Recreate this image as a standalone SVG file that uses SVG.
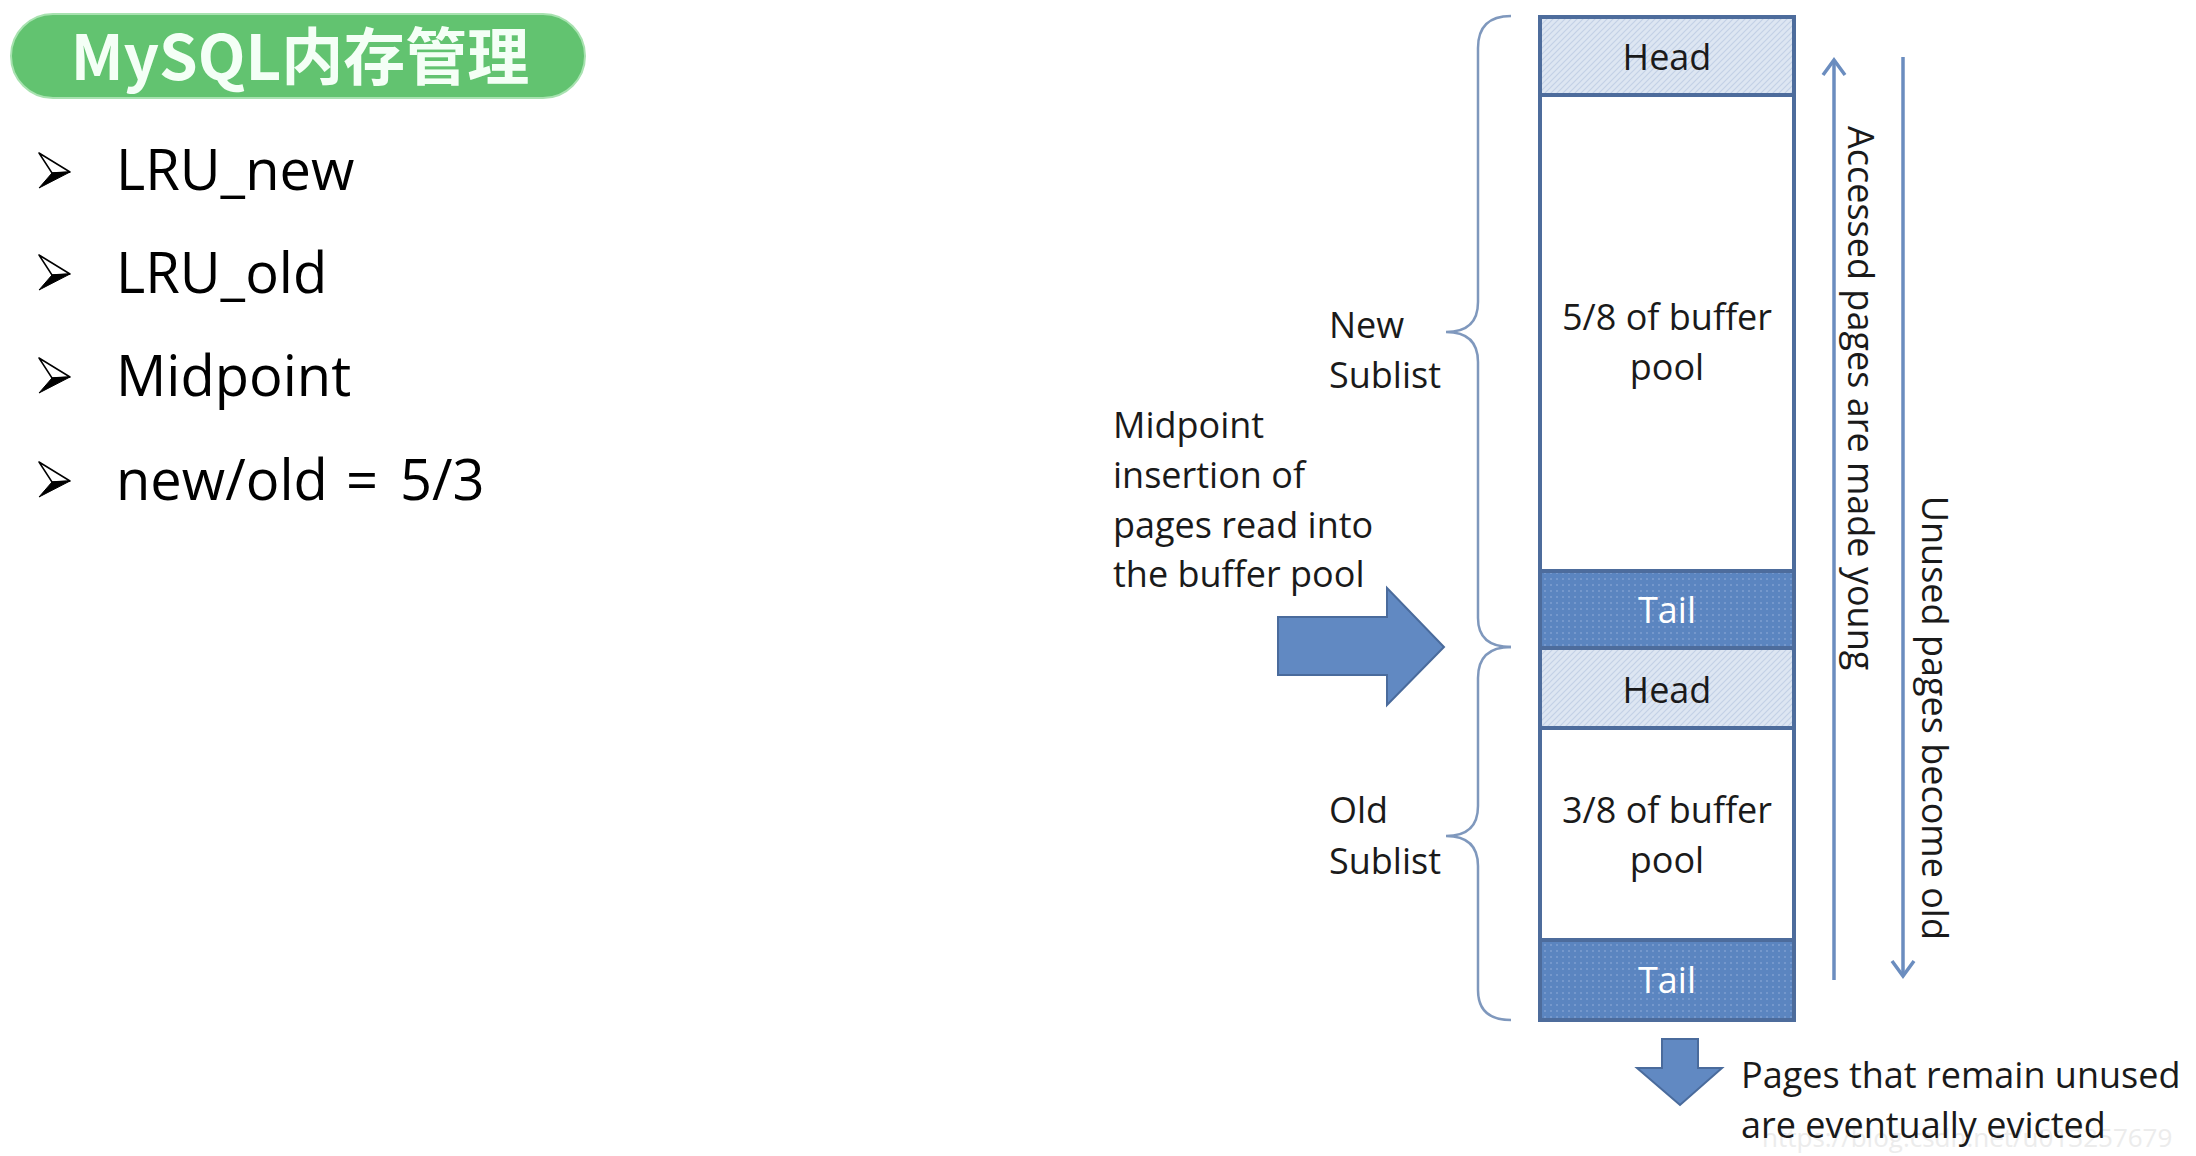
<svg xmlns="http://www.w3.org/2000/svg" width="2196" height="1156" viewBox="0 0 2196 1156">
<defs>
<style>
.t{font-family:"Open Sans","Liberation Sans",sans-serif;fill:#1a1a1a}
.lbl{font-size:36px}
.big{font-size:56px;fill:#000}
.w{fill:#ffffff}
.row{stroke:#4d6c9c;stroke-width:4}
.brace{fill:none;stroke:#7f98bd;stroke-width:2.5}
.vl{stroke:#6b8dbf;stroke-width:3.5;fill:none}
.blk{fill:#6189c2;stroke:#4a6b9c;stroke-width:2}
</style>
<pattern id="hatch" width="6" height="6" patternUnits="userSpaceOnUse">
<rect width="6" height="6" fill="#dde6f2"/>
<path d="M-1,1 L1,-1 M0,6 L6,0 M5,7 L7,5" stroke="#c3d1e6" stroke-width="1.2"/>
</pattern>
<pattern id="dots" width="6" height="6" patternUnits="userSpaceOnUse">
<rect width="6" height="6" fill="#5b85c0"/>
<circle cx="3" cy="3" r="1" fill="#7d9fd0"/>
</pattern>
<g id="bul">
<polygon points="0,0 31,19 13,20" fill="#ffffff" stroke="#000" stroke-width="1.5" stroke-linejoin="round"/>
<polygon points="13,20 31,19 0,35" fill="#000" stroke="#000" stroke-width="1" stroke-linejoin="round"/>
</g>
</defs>
<rect width="2196" height="1156" fill="#ffffff"/>

<g id="title">
<rect x="11" y="14" width="574" height="84" rx="42" fill="#62c370" stroke="#a8e2b0" stroke-width="2"/>
<text x="300" y="80" text-anchor="middle" font-family="'Noto Sans CJK SC','Noto Sans',sans-serif" font-weight="bold" font-size="62" fill="#f4fff6">MySQL内存管理</text>
</g>

<g id="bullets">
<use href="#bul" x="39" y="153"/>
<text class="t big" x="116" y="190">LRU_new</text>
<use href="#bul" x="39" y="255"/>
<text class="t big" x="116" y="293">LRU_old</text>
<use href="#bul" x="39" y="358"/>
<text class="t big" x="116" y="396">Midpoint</text>
<use href="#bul" x="39" y="462"/>
<text class="t big" x="116" y="500">new/old <tspan x="346">=</tspan> <tspan x="400">5/3</tspan></text>
</g>

<g id="buffer-pool">
<g id="head-new">
<rect x="1540" y="17" width="254" height="78" fill="url(#hatch)" class="row"/>
<text class="t lbl" x="1667" y="70" text-anchor="middle">Head</text>
</g>
<g id="body-new">
<rect x="1540" y="95" width="254" height="476" fill="#ffffff" class="row"/>
<text class="t lbl" x="1667" y="330" text-anchor="middle">5/8 of buffer</text>
<text class="t lbl" x="1667" y="380" text-anchor="middle">pool</text>
</g>
<g id="tail-new">
<rect x="1540" y="571" width="254" height="77" fill="url(#dots)" class="row"/>
<text class="t lbl w" x="1667" y="623" text-anchor="middle">Tail</text>
</g>
<g id="head-old">
<rect x="1540" y="648" width="254" height="80" fill="url(#hatch)" class="row"/>
<text class="t lbl" x="1667" y="703" text-anchor="middle">Head</text>
</g>
<g id="body-old">
<rect x="1540" y="728" width="254" height="212" fill="#ffffff" class="row"/>
<text class="t lbl" x="1667" y="823" text-anchor="middle">3/8 of buffer</text>
<text class="t lbl" x="1667" y="873" text-anchor="middle">pool</text>
</g>
<g id="tail-old">
<rect x="1540" y="940" width="254" height="80" fill="url(#dots)" class="row"/>
<text class="t lbl w" x="1667" y="993" text-anchor="middle">Tail</text>
</g>
</g>

<g id="new-sublist">
<path class="brace" d="M1511,16 Q1478,16 1478,48 L1478,302 Q1478,332 1446,332 Q1478,332 1478,362 L1478,618 Q1478,647 1511,647"/>
<text class="t lbl" x="1329" y="338">New</text>
<text class="t lbl" x="1329" y="388">Sublist</text>
</g>

<g id="old-sublist">
<path class="brace" d="M1511,647 Q1478,647 1478,678 L1478,806 Q1478,836 1446,836 Q1478,836 1478,866 L1478,990 Q1478,1020 1511,1020"/>
<text class="t lbl" x="1329" y="823">Old</text>
<text class="t lbl" x="1329" y="874">Sublist</text>
</g>

<g id="midpoint">
<text class="t lbl" x="1113" y="438">Midpoint</text>
<text class="t lbl" x="1113" y="488">insertion of</text>
<text class="t lbl" x="1113" y="538">pages read into</text>
<text class="t lbl" x="1113" y="587">the buffer pool</text>
</g>

<g id="evicted">
<text class="t lbl" x="1741" y="1088">Pages that remain unused</text>
<text x="1762" y="1147" font-family="'Open Sans',sans-serif" font-size="26" fill="#ececec">https://blog.csdn.net/u013257679</text>
<text class="t lbl" x="1741" y="1138">are eventually evicted</text>
</g>

<g id="connectors">
<polygon class="blk" points="1278,617 1387,617 1387,588 1444,647 1387,705 1387,675 1278,675"/>
<polygon class="blk" points="1662,1039 1698,1039 1698,1068 1722,1068 1680,1105 1637,1068 1662,1068"/>
<line class="vl" x1="1834" y1="980" x2="1834" y2="60"/>
<polyline class="vl" points="1823,75 1834,60 1845,75"/>
<line class="vl" x1="1903" y1="57" x2="1903" y2="976"/>
<polyline class="vl" points="1892,961 1903,976 1914,961"/>
<text class="t lbl" transform="translate(1848,126) rotate(90)">Accessed pages are made young</text>
<text class="t lbl" text-anchor="end" transform="translate(1922,940) rotate(90)">Unused pages become old</text>
</g>
</svg>
